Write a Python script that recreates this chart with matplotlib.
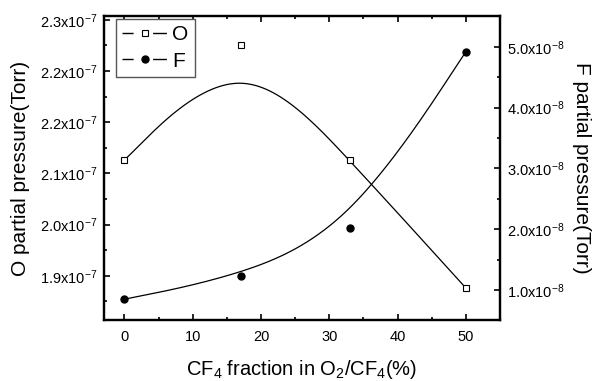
import numpy as np
import matplotlib
matplotlib.use("Agg")
import matplotlib.pyplot as plt
from matplotlib.lines import Line2D
from matplotlib.ticker import FixedLocator, MultipleLocator, FuncFormatter

plt.rcParams['font.family'] = ['Liberation Sans', 'DejaVu Sans']
plt.rcParams['mathtext.fontset'] = 'custom'
plt.rcParams['mathtext.rm'] = 'Liberation Sans'
plt.rcParams['mathtext.it'] = 'Liberation Sans'

# data
cf4_fraction = [0, 17, 33, 50]               # %
o_pressure = [2.101, 2.281, 2.101, 1.901]    # x1e-7 Torr
f_pressure = [0.85, 1.23, 2.02, 4.92]        # x1e-8 Torr

left_ticks = [1.92, 2.00, 2.08, 2.16, 2.24, 2.32]


def bspline3(xs, ys, n=60):
    # uniform cubic B-spline, ends tripled so it starts/ends on the data
    P = np.column_stack([xs, ys]).astype(float)
    Q = np.vstack([P[0], P[0], P, P[-1], P[-1]])
    t = np.linspace(0, 1, n)[:, None]
    b0 = (1 - t) ** 3 / 6
    b1 = (3 * t ** 3 - 6 * t ** 2 + 4) / 6
    b2 = (-3 * t ** 3 + 3 * t ** 2 + 3 * t + 1) / 6
    b3 = t ** 3 / 6
    segs = [b0 * Q[i] + b1 * Q[i + 1] + b2 * Q[i + 2] + b3 * Q[i + 3]
            for i in range(len(Q) - 3)]
    out = np.vstack(segs)
    return out[:, 0], out[:, 1]


fig = plt.figure(figsize=(5.93, 3.81), dpi=100)
ax = fig.add_axes([0.1754, 0.160, 0.6678, 0.798])
ax2 = ax.twinx()

ox, oy = bspline3(cf4_fraction, o_pressure)
fx, fy = bspline3(cf4_fraction, f_pressure)

ax.plot(ox, oy, color='black', lw=0.9)
ax.plot(cf4_fraction, o_pressure, ls='none', marker='s', ms=4.5,
        mfc='white', mec='black', mew=0.8)
ax2.plot(fx, fy, color='black', lw=0.9)
ax2.plot(cf4_fraction, f_pressure, ls='none', marker='o', ms=5,
         mfc='black', mec='black')

ax.set_xlim(-3, 55)
ax.set_ylim(1.851, 2.326)
ax2.set_ylim(0.507, 5.507)

ax.xaxis.set_major_locator(MultipleLocator(10))
ax.xaxis.set_minor_locator(MultipleLocator(5))
ax.yaxis.set_major_locator(FixedLocator(left_ticks))
ax.yaxis.set_minor_locator(FixedLocator(np.array(left_ticks) - 0.04))
ax2.yaxis.set_major_locator(MultipleLocator(1))
ax2.yaxis.set_minor_locator(MultipleLocator(0.5))

ax.yaxis.set_major_formatter(FuncFormatter(lambda v, p: f"{v:.1f}x10$^{{-7}}$"))
ax2.yaxis.set_major_formatter(FuncFormatter(lambda v, p: f"{v:.1f}x10$^{{-8}}$"))

for a in (ax, ax2):
    for s in a.spines.values():
        s.set_linewidth(1.6)
    a.tick_params(which='both', direction='in', width=1.2, labelsize=10.5, pad=5)
    a.tick_params(which='major', length=4.5)
    a.tick_params(which='minor', length=2.5)
ax.tick_params(axis='x', pad=7)
ax.tick_params(which='both', top=True, right=False)
ax2.tick_params(which='both', right=True, left=False)

ax.set_xlabel("CF$_4$ fraction in O$_2$/CF$_4$(%)", fontsize=14.5, labelpad=10)
ax.set_ylabel("O partial pressure(Torr)", fontsize=15, labelpad=7)
ax2.set_ylabel("F partial pressure(Torr)", fontsize=15, rotation=270, labelpad=19)

h_o = Line2D([], [], color='black', lw=1.0, ls=(0, (8, 14, 10)), marker='s',
             ms=4, mfc='white', mec='black', mew=0.8)
h_f = Line2D([], [], color='black', lw=1.0, ls=(0, (8, 14, 10)), marker='o',
             ms=5, mfc='black', mec='black')
leg = ax2.legend([h_o, h_f], ['O', 'F'], loc='upper left', bbox_to_anchor=(0.03, 0.99),
                 borderaxespad=0, fontsize=15, fancybox=False, framealpha=1,
                 edgecolor='#555555', handlelength=2.2, handletextpad=0.2,
                 labelspacing=0.35, borderpad=0.3)
leg.get_frame().set_linewidth(1.0)

fig.savefig("out.png", dpi=100)
